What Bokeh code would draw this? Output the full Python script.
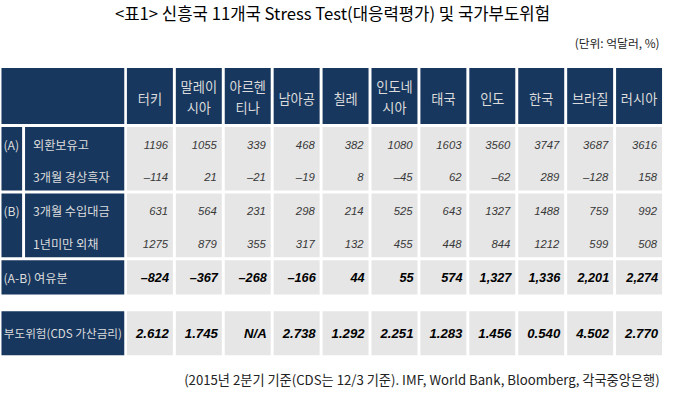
from bokeh.plotting import figure
from bokeh.models import Range1d, ColumnDataSource
from bokeh.core.properties import value
from bokeh.embed import file_html
from bokeh.resources import INLINE

# ---------------- data ----------------
title = "<표1> 신흥국 11개국 Stress Test(대응력평가) 및 국가부도위험"
unit_note = "(단위: 억달러, %)"
source_note = "(2015년 2분기 기준(CDS는 12/3 기준). IMF, World Bank, Bloomberg, 각국중앙은행)"

country_line1 = ["터키", "말레이", "아르헨", "남아공", "칠레", "인도네", "태국", "인도", "한국", "브라질", "러시아"]
country_line2 = ["", "시아", "티나", "", "", "시아", "", "", "", "", ""]

fx_reserves = [1196, 1055, 339, 468, 382, 1080, 1603, 3560, 3747, 3687, 3616]
current_account_3m = [-114, 21, -21, -19, 8, -45, 62, -62, 289, -128, 158]
imports_3m = [631, 564, 231, 298, 214, 525, 643, 1327, 1488, 759, 992]
short_term_debt = [1275, 879, 355, 317, 132, 455, 448, 844, 1212, 599, 508]
buffer_a_minus_b = [-824, -367, -268, -166, 44, 55, 574, 1327, 1336, 2201, 2274]
cds_spread = ["2.612", "1.745", "N/A", "2.738", "1.292", "2.251", "1.283", "1.456", "0.540", "4.502", "2.770"]

group_labels = ["(A)", "(B)"]
row_labels_a = ["외환보유고", "3개월 경상흑자"]
row_labels_b = ["3개월 수입대금", "1년미만 외채"]
buffer_label = "(A-B) 여유분"
cds_label = "부도위험(CDS 가산금리)"

# ---------------- layout ----------------
W, H = 664, 390
X0, X1, Y0, Y1 = 2, 678, 4, 402
FS = 0.98  # font scale

NAVY = "#17375E"
GRAY = "#E6E6E6"
HEAD_TXT = "#DCDCDC"
KR = "Noto Sans CJK KR"
NUM = "Liberation Sans"

COL_X, PITCH, COL_W = 130.7, 49.8, 46.8
LEFT_X0, LEFT_X1 = 3, 128
GRP_X1, LBL_X0 = 24, 27
HEADER = (73, 130)
ROW_A = (133, 198)
ROW_B = (201, 266)
ROW_AB = (269, 304)
ROW_CDS = (321, 366)

n = len(country_line1)
col_left = [COL_X + i * PITCH for i in range(n)]
col_right = [c + COL_W for c in col_left]
col_mid = [c + COL_W / 2 for c in col_left]

p = figure(width=W, height=H, x_range=Range1d(X0, X1), y_range=Range1d(Y1, Y0),
           output_backend="svg", toolbar_location=None, min_border=0)
p.axis.visible = False
p.grid.visible = False
p.outline_line_color = None
p.background_fill_color = "white"
p.border_fill_color = "white"

def fs(px):
    return value(f"{px * FS:.1f}px")

# navy blocks
nl, nr, nt, nb = [], [], [], []
def navy(l, r, band):
    nl.append(l); nr.append(r); nt.append(band[0]); nb.append(band[1])
navy(LEFT_X0, LEFT_X1, HEADER)
for i in range(n):
    navy(col_left[i], col_right[i], HEADER)
for band in (ROW_A, ROW_B):
    navy(LEFT_X0, GRP_X1, band)
    navy(LBL_X0, LEFT_X1, band)
navy(LEFT_X0, LEFT_X1, ROW_AB)
navy(LEFT_X0, LEFT_X1, ROW_CDS)
p.quad(left=nl, right=nr, top=nt, bottom=nb, fill_color=NAVY, line_color=None)

# gray cells
gl, gr, gt, gb = [], [], [], []
for band in (ROW_A, ROW_B, ROW_AB, ROW_CDS):
    for i in range(n):
        gl.append(col_left[i]); gr.append(col_right[i]); gt.append(band[0]); gb.append(band[1])
p.quad(left=gl, right=gr, top=gt, bottom=gb, fill_color=GRAY, line_color=None)

def txt(xs, ys, texts, size, font=KR, color="black", align="left", style="normal"):
    src = ColumnDataSource(dict(x=xs, y=ys, t=texts))
    p.text(x="x", y="y", text="t", source=src, text_font=value(font), text_font_size=fs(size),
           text_color=color, text_align=align, text_baseline="middle", text_font_style=style)

# titles
txt([340], [17], [title], 17, align="center")
txt([673], [47], [unit_note], 12, align="right", color="#222222")
txt([673], [391], [source_note], 13.5, align="right", color="#222222")

# header countries
hx, hy, ht = [], [], []
for i in range(n):
    if country_line2[i]:
        hx += [col_mid[i], col_mid[i]]; hy += [92, 113]; ht += [country_line1[i], country_line2[i]]
    else:
        hx.append(col_mid[i]); hy.append(104); ht.append(country_line1[i])
txt(hx, hy, ht, 13.5, color=HEAD_TXT, align="center")

# row labels
txt([5, 5], [151, 219], group_labels, 12.5, color=HEAD_TXT)
txt([35, 35, 35, 35], [151, 184, 219, 252], row_labels_a + row_labels_b, 12.5, color=HEAD_TXT)
txt([5], [287], [buffer_label], 12.5, color=HEAD_TXT)
txt([65.5], [343.5], [cds_label], 11.8, color=HEAD_TXT, align="center")

def fmt(v, comma=False):
    s = f"{v:,}" if comma else f"{v}"
    return s.replace("-", "\u2013")

# plain numbers
vx, vy, vt = [], [], []
for row, y in ((fx_reserves, 151), (current_account_3m, 184), (imports_3m, 219), (short_term_debt, 252)):
    for i in range(n):
        vx.append(col_right[i] - 5); vy.append(y); vt.append(fmt(row[i]))
txt(vx, vy, vt, 11.5, font=NUM, color="#383838", align="right", style="italic")

# buffer row
txt([col_right[i] - 4 for i in range(n)], [287] * n, [fmt(v, True) for v in buffer_a_minus_b],
    13, font=NUM, color="black", align="right", style="bold italic")

# CDS row
txt([col_right[i] - 4 for i in range(n)], [343.5] * n, cds_spread,
    13.5, font=NUM, color="black", align="right", style="bold italic")

open("out.html", "w").write(file_html(p, INLINE))
